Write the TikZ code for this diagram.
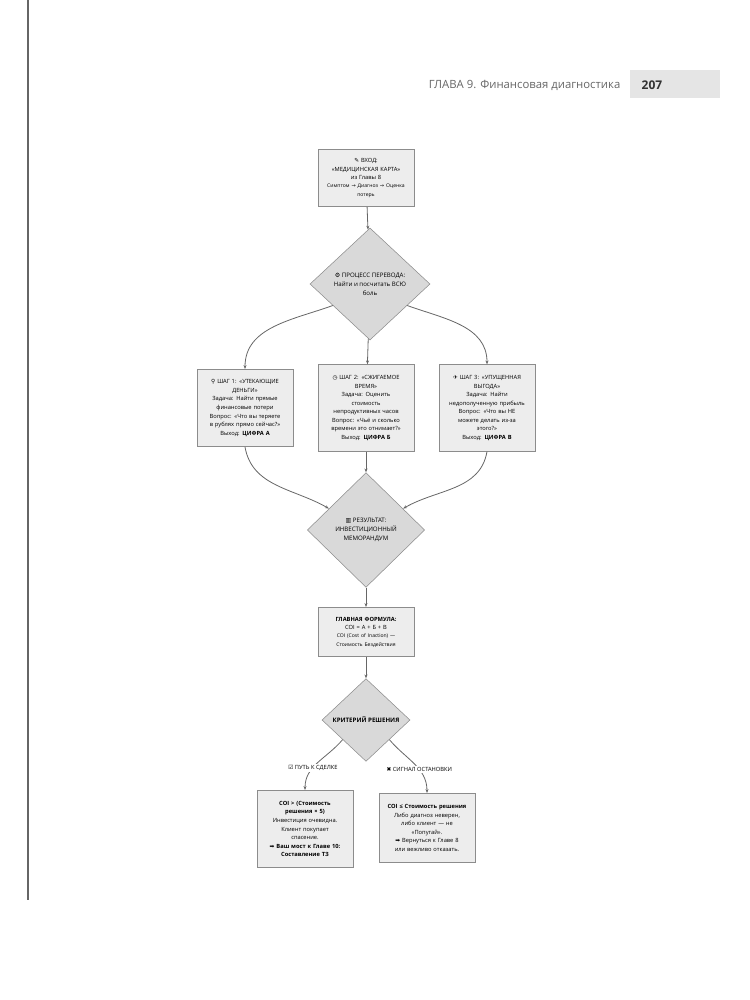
\documentclass[tikz,border=0pt]{standalone}
\usepackage{fontspec}
\setmainfont{Open Sans}
\newfontfamily\symf{DejaVu Sans}
\usetikzlibrary{shapes.geometric,arrows.meta}
\tikzset{
  box/.style={draw=black!45,fill=black!7,align=center,text width=68pt,inner sep=2pt,
    font=\fontsize{4.3}{6.4}\selectfont},
  dia/.style={diamond,draw=black!45,fill=black!15,align=center,aspect=1,inner sep=0pt,
    font=\fontsize{4.6}{6.8}\selectfont},
  lbl/.style={fill=white,inner sep=1pt,font=\fontsize{4.3}{5}\selectfont},
  flow/.style={draw=black!60,semithick,-{Stealth[length=3pt]}}
}
\newcommand{\ic}[1]{{\symf #1}}
\begin{document}
\begin{tikzpicture}[x=0.75pt,y=-0.75pt]
\useasboundingbox (0,0) rectangle (750,1000);
% page frame and header
\draw[black!60,thick] (28,0) -- (28,900);
\fill[black!10] (630,70) rectangle (720,98);
\node[anchor=east,black!60,font=\fontsize{8.5}{10}\selectfont] (hdr) at (625,85) {ГЛАВА 9. Финансовая диагностика};
\node[font=\bfseries\fontsize{9}{10}\selectfont,black!80] (pg) at (652,85) {207};

% nodes
\node[box,minimum height=43pt] (in) at (366,178) {\ic{✎} ВХОД:\\«МЕДИЦИНСКАЯ КАРТА»\\из Главы 8\\{\fontsize{3.8}{6}\selectfont Симптом \ic{→} Диагноз \ic{→} Оценка\\потерь}};
\node[dia,minimum width=90pt,minimum height=84pt] (proc) at (370,284) {\ic{⚙} ПРОЦЕСС ПЕРЕВОДА:\\Найти и посчитать ВСЮ\\боль};
\node[box,minimum height=58pt] (s1) at (245,408) {\ic{⚲} ШАГ 1: «УТЕКАЮЩИЕ\\ДЕНЬГИ»\\Задача: Найти прямые\\финансовые потери\\Вопрос: «Что вы теряете\\в рублях прямо сейчас?»\\Выход: \textbf{ЦИФРА А}};
\node[box,minimum height=65pt] (s2) at (366,408) {\ic{◷} ШАГ 2: «СЖИГАЕМОЕ\\ВРЕМЯ»\\Задача: Оценить\\стоимость\\непродуктивных часов\\Вопрос: «Чьё и сколько\\времени это отнимает?»\\Выход: \textbf{ЦИФРА Б}};
\node[box,minimum height=65pt] (s3) at (487,408) {\ic{✈} ШАГ 3: «УПУЩЕННАЯ\\ВЫГОДА»\\Задача: Найти\\недополученную прибыль\\Вопрос: «Что вы НЕ\\можете делать из-за\\этого?»\\Выход: \textbf{ЦИФРА В}};
\node[dia,minimum width=88pt,minimum height=86pt] (res) at (366,530) {\ic{▥} РЕЗУЛЬТАТ:\\ИНВЕСТИЦИОННЫЙ\\МЕМОРАНДУМ};
\node[box,minimum height=37pt] (form) at (366,632) {\textbf{ГЛАВНАЯ ФОРМУЛА:}\\COI = А + Б + В\\{\fontsize{3.8}{6}\selectfont COI (Cost of Inaction) —\\Стоимость Бездействия}};
\node[dia,minimum width=66pt,minimum height=62pt] (crit) at (366,720) {\textbf{КРИТЕРИЙ РЕШЕНИЯ}};
\node[box,minimum height=58pt] (go) at (305,829) {\textbf{COI > (Стоимость}\\\textbf{решения × 5)}\\Инвестиция очевидна.\\Клиент покупает\\спасение.\\\ic{➡} \textbf{Ваш мост к Главе 10:}\\\textbf{Составление ТЗ}};
\node[box,minimum height=52pt] (stop) at (427,828) {\textbf{COI ≤ Стоимость решения}\\Либо диагноз неверен,\\либо клиент — не\\«Попугай».\\\ic{➡} Вернуться к Главе 8\\или вежливо отказать.};

% connectors
\draw[flow] (in) -- (proc);
\draw[flow] (proc.210) to[out=200,in=90] (s1.north);
\draw[flow] (proc) -- (s2);
\draw[flow] (proc.330) to[out=-20,in=90] (s3.north);
\draw[flow] (s1.south) to[out=-80,in=150] (res.150);
\draw[flow] (s2) -- (res);
\draw[flow] (s3.south) to[out=-100,in=30] (res.30);
\draw[flow] (res) -- (form);
\draw[flow] (form) -- (crit);
\draw[flow] (crit.220) to[out=230,in=90] node[lbl,pos=0.62] {\ic{☑} ПУТЬ К СДЕЛКЕ} (go.north);
\draw[flow] (crit.320) to[out=-50,in=90] node[lbl,pos=0.62] {\ic{✖} СИГНАЛ ОСТАНОВКИ} (stop.north);
\end{tikzpicture}
\end{document}
